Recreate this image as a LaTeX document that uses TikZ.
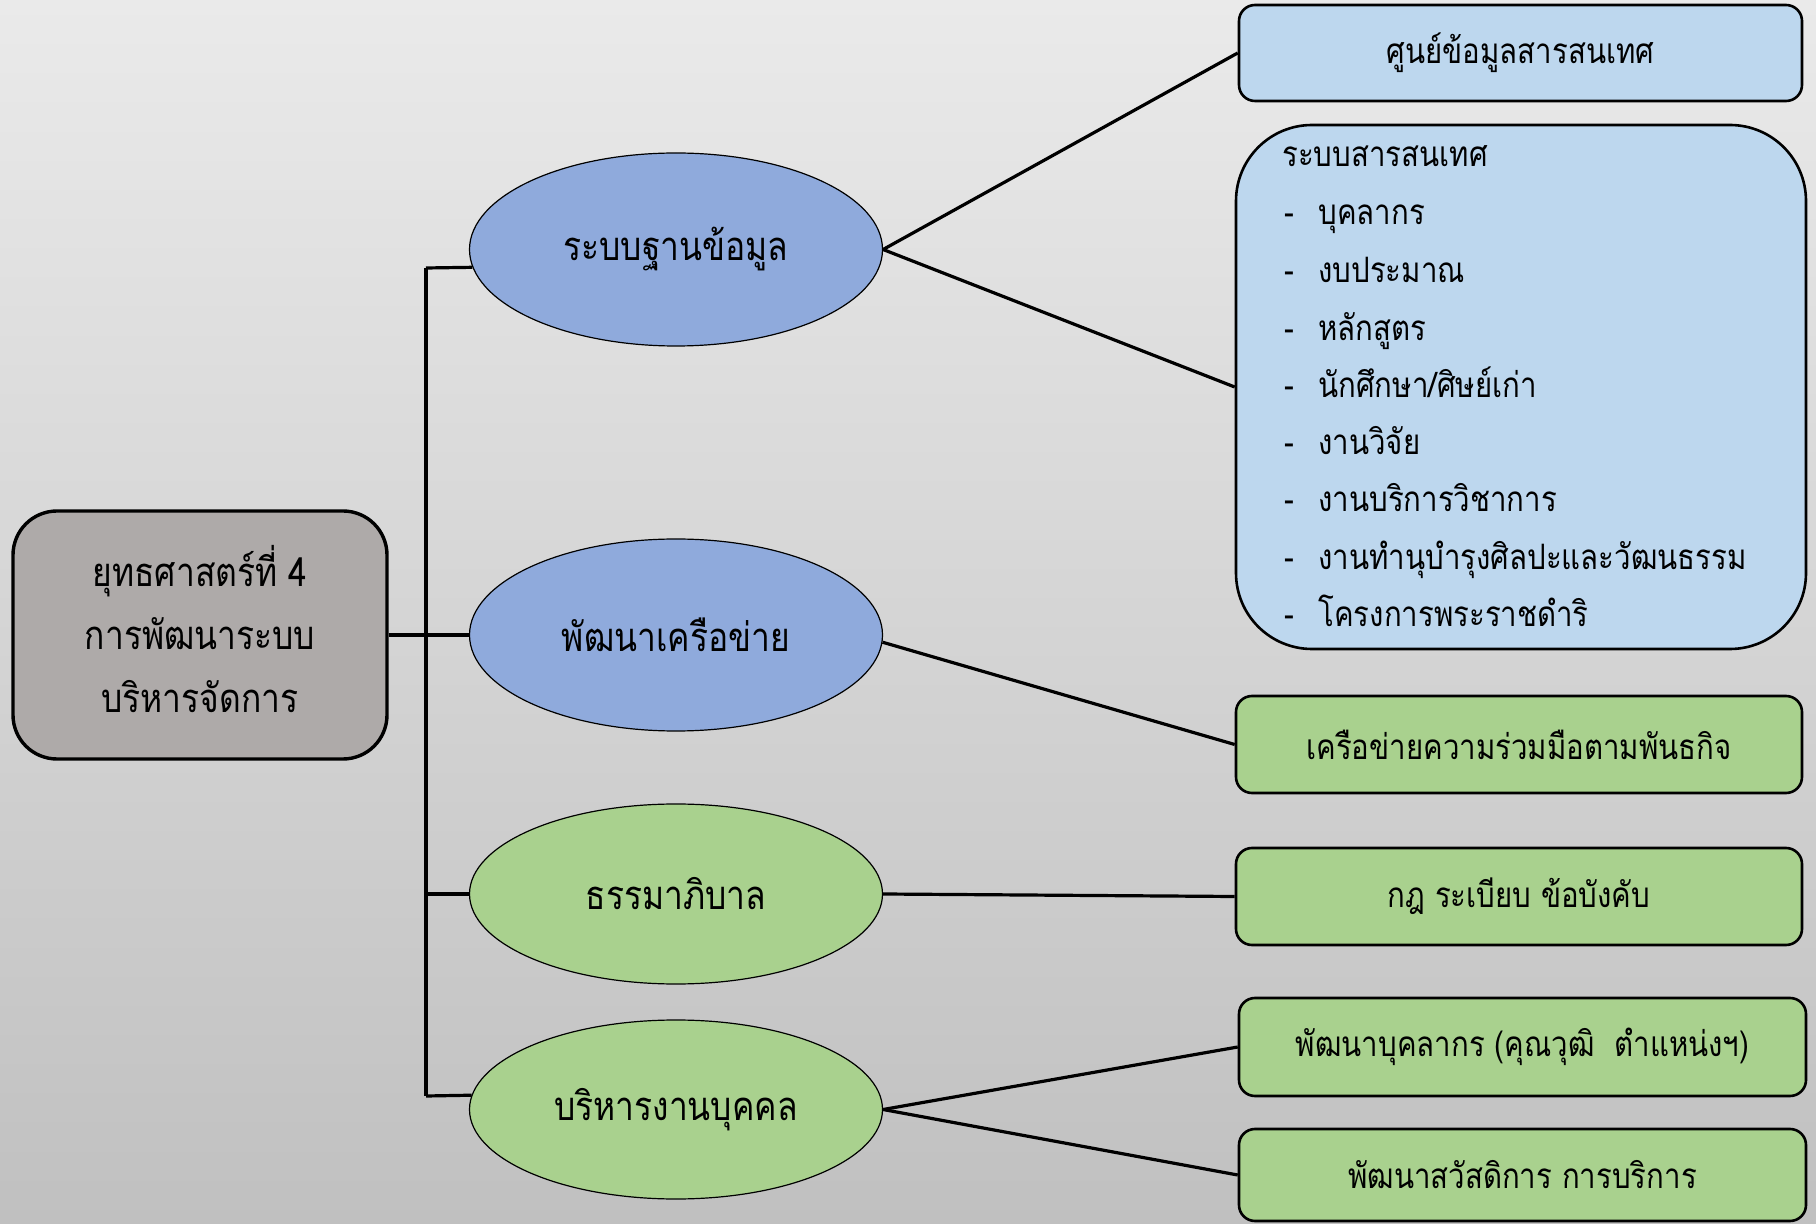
\documentclass[tikz,border=0pt]{standalone}
\usepackage{fontspec}
\newfontfamily\thai[Script=Thai,FakeStretch=0.84]{Loma}
\usetikzlibrary{shapes.geometric}
\definecolor{bgtop}{RGB}{234,234,234}
\definecolor{bgbot}{RGB}{192,192,192}
\definecolor{mainfill}{RGB}{174,170,169}
\definecolor{blueell}{RGB}{143,170,220}
\definecolor{lightblue}{RGB}{189,215,238}
\definecolor{greenfill}{RGB}{169,209,142}
\begin{document}
\begin{tikzpicture}[x=0.5pt,y=-0.5pt,
  mainbox/.style={rectangle, rounded corners=22pt, draw=black, line width=1.7pt, fill=mainfill,
    minimum width=187pt, minimum height=124pt, inner sep=0pt},
  maintext/.style={inner sep=0pt, align=center, font=\thai\fontsize{20}{31.5}\selectfont},
  ell/.style={ellipse, draw=black, line width=0.6pt, minimum width=206.5pt, inner sep=0pt,
    font=\thai\fontsize{20}{24}\selectfont},
  rbox/.style={rectangle, rounded corners=8pt, draw=black, line width=1.3pt, inner sep=0pt,
    font=\thai\fontsize{17.5}{21}\selectfont},
  btext/.style={anchor=mid west, inner sep=0pt, font=\thai\fontsize{17.5}{21}\selectfont},
  conn/.style={line width=1.6pt, draw=black}]
\shade[top color=bgtop, bottom color=bgbot] (0,0) rectangle (1816,1224);
\useasboundingbox (0,0) rectangle (1816,1224);

\coordinate (bt) at (426,268);
\coordinate (bb) at (426,1096);
\coordinate (b3) at (426,894);

\node[mainbox] (main) at (200,635) {};
\node[maintext] (mt) at (200,629) {ยุทธศาสตร์ที่ 4\\การพัฒนาระบบ\\บริหารจัดการ};

\node[ell, fill=blueell, minimum height=96.5pt] (e1) at (676,249.5) {ระบบฐานข้อมูล};
\node[ell, fill=blueell, minimum height=96pt] (e2) at (676,635) {พัฒนาเครือข่าย};
\node[ell, fill=greenfill, minimum height=90pt] (e3) at (676,894) {ธรรมาภิบาล};
\node[ell, fill=greenfill, minimum height=89.5pt] (e4) at (676,1109.5) {บริหารงานบุคคล};

\node[rbox, fill=lightblue, minimum width=281.5pt, minimum height=48pt] (A) at (1520.5,53) {ศูนย์ข้อมูลสารสนเทศ};
\node[rbox, fill=lightblue, rounded corners=38pt, minimum width=285pt, minimum height=262pt] (B) at (1521,387) {};
\node[rbox, fill=greenfill, minimum width=283pt, minimum height=48.5pt] (C) at (1519,744.5) {เครือข่ายความร่วมมือตามพันธกิจ};
\node[rbox, fill=greenfill, minimum width=283pt, minimum height=48.5pt] (D) at (1519,896.5) {กฎ ระเบียบ ข้อบังคับ};
\node[rbox, fill=greenfill, minimum width=283.5pt, minimum height=49pt] (E) at (1522.5,1047) {พัฒนาบุคลากร (คุณวุฒิ\ \ ตำแหน่งฯ)};
\node[rbox, fill=greenfill, minimum width=283.5pt, minimum height=46pt] (F) at (1522.5,1175) {พัฒนาสวัสดิการ การบริการ};

\node[btext] (b0) at (1282,162) {ระบบสารสนเทศ};
\node[btext] (d1) at (1284,220) {-};  \node[btext] (t1) at (1318,220) {บุคลากร};
\node[btext] (d2) at (1284,278) {-};  \node[btext] (t2) at (1318,278) {งบประมาณ};
\node[btext] (d3) at (1284,336) {-};  \node[btext] (t3) at (1318,336) {หลักสูตร};
\node[btext] (d4) at (1284,393) {-};  \node[btext] (t4) at (1318,393) {นักศึกษา/ศิษย์เก่า};
\node[btext] (d5) at (1284,450) {-};  \node[btext] (t5) at (1318,450) {งานวิจัย};
\node[btext] (d6) at (1284,507) {-};  \node[btext] (t6) at (1318,507) {งานบริการวิชาการ};
\node[btext] (d7) at (1284,565) {-};  \node[btext] (t7) at (1318,565) {งานทำนุบำรุงศิลปะและวัฒนธรรม};
\node[btext] (d8) at (1284,622) {-};  \node[btext] (t8) at (1318,622) {โครงการพระราชดำริ};

\draw[conn] (bt) -- (bb);
\draw[conn] (bt) -- (e1.185.3);
\draw[conn] (main.east) -- (e2.west);
\draw[conn] (b3) -- (e3.west);
\draw[conn] (bb) -- (e4.176.2);

\draw[conn] (e1.east) -- (A.west);
\draw[conn] (e1.east) -- (B.west);
\draw[conn] (e2.-2.5) -- (C.west);
\draw[conn] (e3.east) -- (D.west);
\draw[conn] (e4.east) -- (E.west);
\draw[conn] (e4.east) -- (F.west);
\end{tikzpicture}
\end{document}
